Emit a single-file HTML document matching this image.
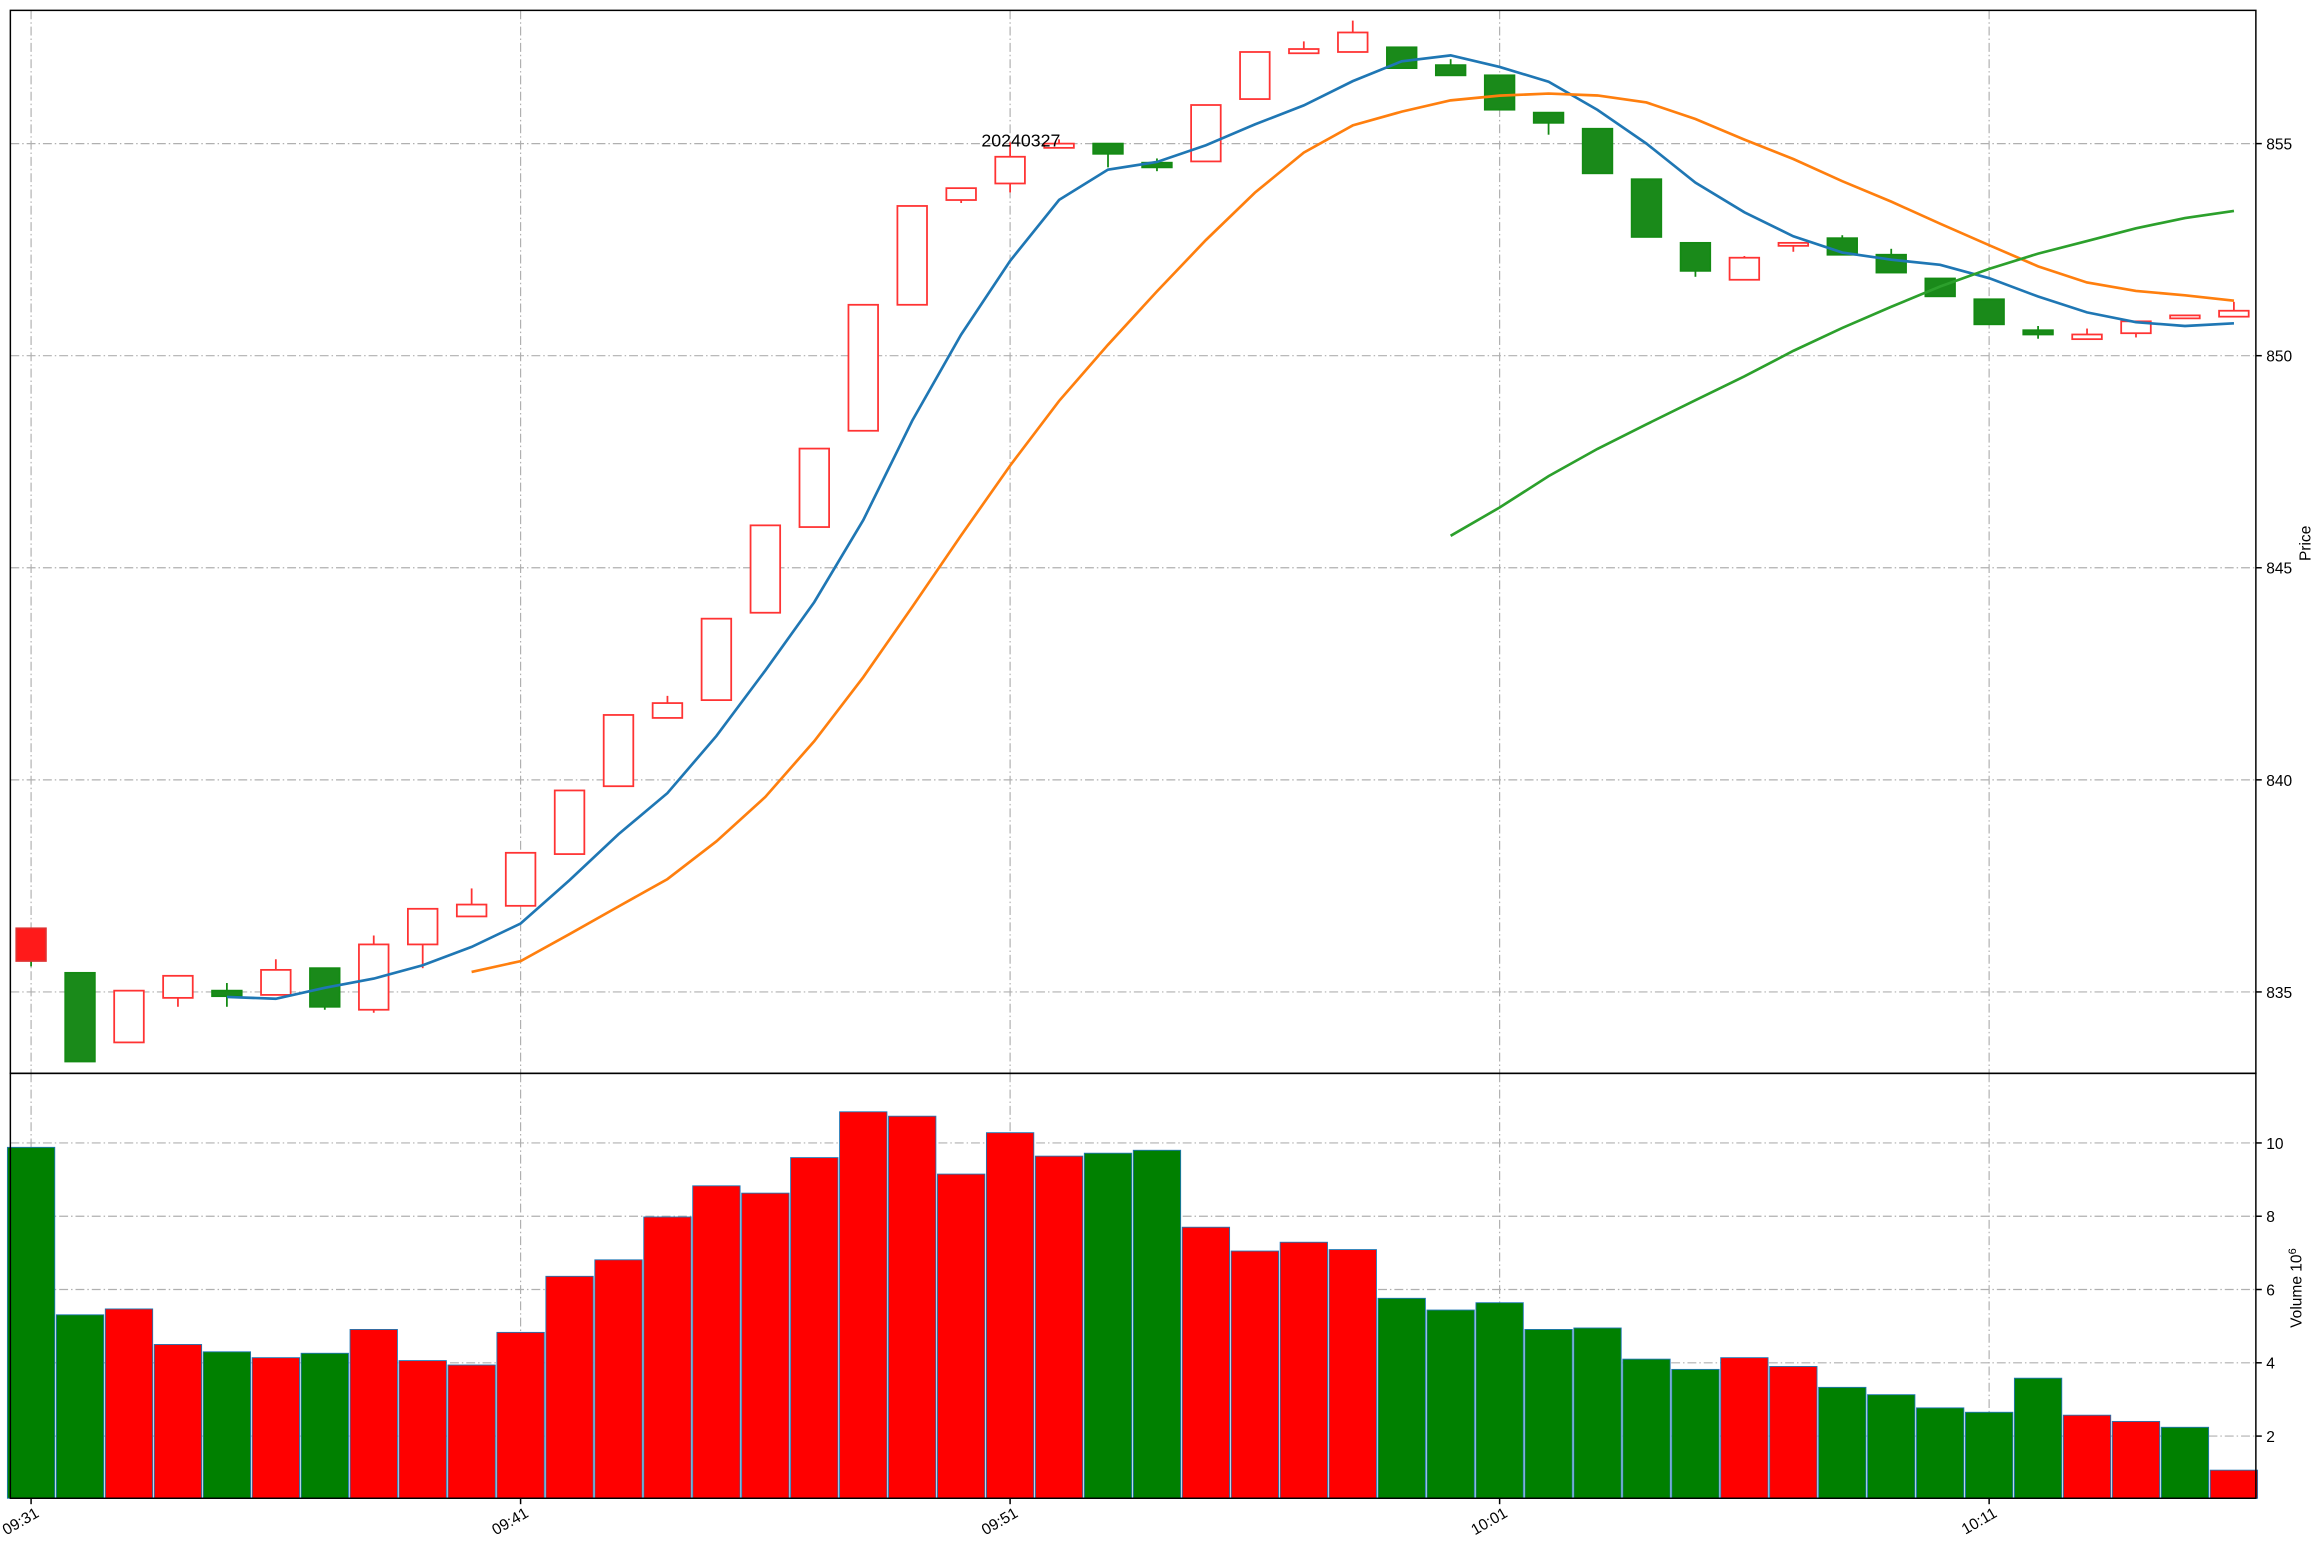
<!DOCTYPE html>
<html><head><meta charset="utf-8"><style>
html,body{margin:0;padding:0;background:#fff;}
svg{display:block;font-family:"Liberation Sans","DejaVu Sans",sans-serif;}
</style></head><body>
<svg id="chart" width="2321" height="1556" viewBox="0 0 1568 1051" preserveAspectRatio="none" xmlns="http://www.w3.org/2000/svg">
<g id="grid"></g>
<g id="marks"></g>
<rect x="7" y="7" width="1517" height="718" fill="none" stroke="#000" stroke-width="1"/>
<rect x="7" y="725" width="1517" height="287" fill="none" stroke="#000" stroke-width="1"/>
<g id="axes" font-size="10.5" fill="#000"></g>
<text x="1561" y="367" font-size="10.5" text-anchor="middle" transform="rotate(-90 1561 367)">Price</text>
<text x="1555" y="870" font-size="10.5" text-anchor="middle" transform="rotate(-90 1555 870)">Volume  10<tspan font-size="7.5" dy="-4">6</tspan></text>
<text x="663" y="99" font-size="12">20240327</text>
</svg>
<script>
const labels = ["09:31","09:41","09:51","10:01","10:11"];
const labelIdx = [0,10,20,30,40];
const opens  = [836.50,835.45,833.81,834.86,835.03,834.93,835.56,834.58,836.12,836.78,837.03,838.25,839.85,841.46,841.88,843.94,845.96,848.23,851.20,853.67,854.06,854.90,855.00,854.55,854.58,856.05,857.13,857.16,857.27,856.85,856.61,855.73,855.35,854.16,852.66,851.79,852.59,852.77,852.38,851.82,851.33,850.60,850.39,850.53,850.88,850.92];
const closes = [835.73,833.36,835.03,835.38,834.90,835.52,834.65,836.12,836.96,837.06,838.28,839.75,841.53,841.81,843.80,846.00,847.81,851.20,853.53,853.95,854.69,855.00,854.76,854.44,855.91,857.16,857.23,857.62,856.78,856.61,855.80,855.49,854.30,852.80,852.00,852.31,852.66,852.38,851.96,851.40,850.74,850.50,850.50,850.81,850.95,851.06];
const highs  = [836.50,835.45,835.03,835.38,835.21,835.77,835.56,836.33,836.96,837.44,838.28,839.75,841.53,841.98,843.80,846.00,847.81,851.20,853.53,853.95,855.03,855.10,855.00,854.65,855.91,857.16,857.41,857.90,857.27,856.99,856.61,855.73,855.35,854.16,852.66,852.35,852.66,852.84,852.52,851.82,851.33,850.70,850.64,850.81,850.95,851.27];
const lows   = [835.60,833.36,833.81,834.65,834.65,834.93,834.58,834.51,835.56,836.78,837.03,838.25,839.85,841.46,841.88,843.94,845.96,848.23,851.20,853.60,853.85,854.90,854.44,854.35,854.58,856.05,857.13,857.16,856.78,856.61,855.80,855.21,854.30,852.80,851.86,851.79,852.45,852.38,851.96,851.40,850.74,850.40,850.39,850.43,850.88,850.92];
const volumes = [9.88,5.31,5.47,4.50,4.30,4.14,4.26,4.91,4.06,3.94,4.83,6.36,6.81,7.98,8.83,8.63,9.60,10.85,10.73,9.15,10.28,9.64,9.72,9.80,7.70,7.05,7.29,7.09,5.76,5.44,5.64,4.91,4.95,4.10,3.82,4.14,3.90,3.33,3.13,2.77,2.65,3.58,2.57,2.40,2.24,1.07];
const volUp = [0,0,1,1,0,1,0,1,1,1,1,1,1,1,1,1,1,1,1,1,1,1,0,0,1,1,1,1,0,0,0,0,0,0,0,1,1,0,0,0,0,0,1,1,0,1];
const priceTicks = [835,840,845,850,855];
const volTicks = [2,4,6,8,10];
const maPeriods = [5,10,30];
const maColors = ["#1f77b4","#ff7f0e","#2ca02c"];

const NS="http://www.w3.org/2000/svg";
const X0=21, DX=33.07, PL=7, PR=1524;
const px=i=>X0+DX*i;
const py=p=>97+(855-p)*28.65;
const vy=v=>1019.5-v*24.75;
function mk(tag,attrs,parent){const e=document.createElementNS(NS,tag);for(const k in attrs)e.setAttribute(k,attrs[k]);parent.appendChild(e);return e;}
const grid=document.getElementById('grid'),marks=document.getElementById('marks'),axes=document.getElementById('axes');
const gs={stroke:"#b0b0b0","stroke-width":0.8,"stroke-dasharray":"6 2 1 2",fill:"none"};
priceTicks.forEach(p=>{const y=py(p);
  const l=mk('line',Object.assign({x1:PL,x2:PR,y1:y,y2:y},gs),grid);
  
  
  mk('line',{x1:PR,x2:PR+4,y1:y,y2:y,stroke:"#000"},axes);
  const t=mk('text',{x:PR+7,y:y+4},axes);t.textContent=p;
  
  
});
volTicks.forEach(v=>{const y=vy(v);
  const l=mk('line',Object.assign({x1:PL,x2:PR,y1:y,y2:y},gs),grid);
  
  
  mk('line',{x1:PR,x2:PR+4,y1:y,y2:y,stroke:"#000"},axes);
  const t=mk('text',{x:PR+7,y:y+4},axes);t.textContent=v;
  
  
});
labelIdx.forEach((i,k)=>{const x=px(i);
  [[7,725],[725,1012]].forEach(r=>{const l=mk('line',Object.assign({x1:x,x2:x,y1:r[0],y2:r[1]},gs),grid);
    
    });
  mk('line',{x1:x,x2:x,y1:1012,y2:1016,stroke:"#000"},axes);
  const t=mk('text',{x:x+6,y:1024,"text-anchor":"end",transform:`rotate(-30 ${x+6} 1024)`},axes);
  t.textContent=labels[k];
  
  
});
// volume bars
volumes.forEach((v,i)=>{const x=px(i);
  const b=mk('rect',{x:x-16,y:vy(v),width:32,height:1012-vy(v),fill:volUp[i]?"#ff0000":"#008000",stroke:"#1f77b4","stroke-width":0.6},marks);
  
  
});
// candles
opens.forEach((o,i)=>{const c=closes[i],x=px(i),up=c>=o;
  const col=up?"#ff3333":"#138a13";
  const w=mk('line',{x1:x,x2:x,y1:py(highs[i]),y2:py(lows[i]),stroke:col,"stroke-width":1.2},marks);
  
  
  const top=py(Math.max(o,c)),bot=py(Math.min(o,c));
  const filled=(!up)||i===0;
  const r=mk('rect',{x:x-10,y:top,width:20,height:Math.max(bot-top,1.5),fill:filled?(i===0?"#ff1a1a":"#1a8a1a"):"#fff",stroke:i===0?"#e03030":col,"stroke-width":1.2},marks);
  
  
});
// moving averages
maPeriods.forEach((n,k)=>{const pts=[];
  for(let i=n-1;i<closes.length;i++){let s=0;for(let j=i-n+1;j<=i;j++)s+=closes[j];pts.push(px(i).toFixed(1)+","+py(s/n).toFixed(1));}
  const l=mk('polyline',{points:pts.join(" "),fill:"none",stroke:maColors[k],"stroke-width":1.8},marks);
  
  
});
</script>
</body></html>
